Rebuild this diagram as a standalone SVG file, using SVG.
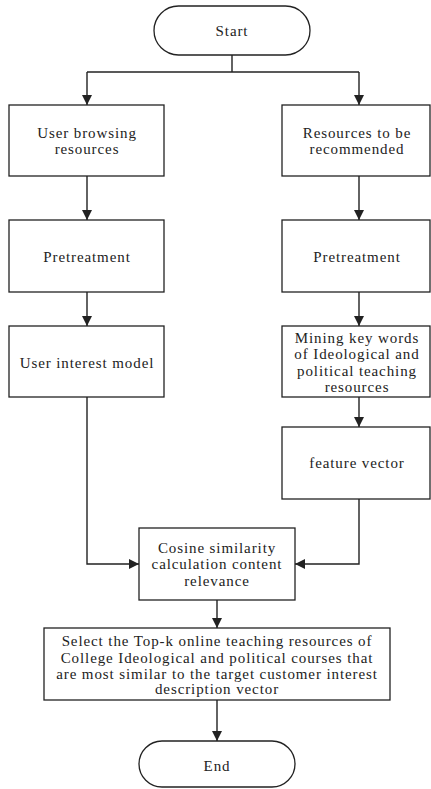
<svg xmlns="http://www.w3.org/2000/svg" width="431" height="789" viewBox="0 0 431 789">
  <style>
    .box { fill: #ffffff; stroke: #222222; stroke-width: 1.3; }
    .term { fill: #ffffff; stroke: #222222; stroke-width: 1.3; }
    .lbl { font-family: "Liberation Serif", "Times New Roman", serif; font-size: 15px; letter-spacing: 0.9px; fill: #222222; text-anchor: middle; }
    .conn { fill: none; stroke: #222222; stroke-width: 1.4; }
  </style>
  <defs>
    <marker id="arrow" viewBox="0 0 10 10" refX="10" refY="5" markerWidth="10" markerHeight="10" markerUnits="userSpaceOnUse" orient="auto">
      <path d="M0,0 L10,5 L0,10 Z" fill="#222222"/>
    </marker>
  </defs>
  <rect width="431" height="789" fill="#ffffff"/>

  <g id="connectors">
    <path class="conn" d="M232,55 V72"/>
    <path class="conn" d="M87,72 H359"/>
    <path class="conn" d="M87,72 V105" marker-end="url(#arrow)"/>
    <path class="conn" d="M359,72 V105" marker-end="url(#arrow)"/>
    <path class="conn" d="M87,176 V220" marker-end="url(#arrow)"/>
    <path class="conn" d="M359,176 V220" marker-end="url(#arrow)"/>
    <path class="conn" d="M87,292 V326" marker-end="url(#arrow)"/>
    <path class="conn" d="M359,292 V326" marker-end="url(#arrow)"/>
    <path class="conn" d="M359,397 V427" marker-end="url(#arrow)"/>
    <path class="conn" d="M87,397 V564 H139" marker-end="url(#arrow)"/>
    <path class="conn" d="M359,499 V564 H295" marker-end="url(#arrow)"/>
    <path class="conn" d="M217,600 V628" marker-end="url(#arrow)"/>
    <path class="conn" d="M217,700 V741" marker-end="url(#arrow)"/>
  </g>

  <g id="start">
    <rect class="term" x="154" y="6" width="156" height="49" rx="24.5"/>
    <text class="lbl" x="232" y="36">Start</text>
  </g>

  <g id="user-browsing">
    <rect class="box" x="9" y="105" width="155" height="71"/>
    <text class="lbl" x="87" y="138">User browsing</text>
    <text class="lbl" x="87" y="154">resources</text>
  </g>

  <g id="resources-recommended">
    <rect class="box" x="282" y="105" width="148" height="71"/>
    <text class="lbl" x="357" y="138">Resources to be</text>
    <text class="lbl" x="357" y="154">recommended</text>
  </g>

  <g id="pretreatment-left">
    <rect class="box" x="9" y="220" width="155" height="72"/>
    <text class="lbl" x="87" y="262">Pretreatment</text>
  </g>

  <g id="pretreatment-right">
    <rect class="box" x="282" y="220" width="148" height="72"/>
    <text class="lbl" x="357" y="262">Pretreatment</text>
  </g>

  <g id="user-interest-model">
    <rect class="box" x="9" y="326" width="155" height="71"/>
    <text class="lbl" x="87" y="368">User interest model</text>
  </g>

  <g id="mining-keywords">
    <rect class="box" x="282" y="326" width="148" height="71"/>
    <text class="lbl" x="357" y="343">Mining key words</text>
    <text class="lbl" x="357" y="359">of Ideological and</text>
    <text class="lbl" x="357" y="376">political teaching</text>
    <text class="lbl" x="357" y="392">resources</text>
  </g>

  <g id="feature-vector">
    <rect class="box" x="282" y="427" width="148" height="72"/>
    <text class="lbl" x="357" y="468">feature vector</text>
  </g>

  <g id="cosine-similarity">
    <rect class="box" x="139" y="528" width="156" height="72"/>
    <text class="lbl" x="217" y="553">Cosine similarity</text>
    <text class="lbl" x="217" y="569">calculation content</text>
    <text class="lbl" x="217" y="586">relevance</text>
  </g>

  <g id="select-top-k">
    <rect class="box" x="44" y="628" width="346" height="72"/>
    <text class="lbl" x="217" y="646">Select the Top-k online teaching resources of</text>
    <text class="lbl" x="217" y="663">College Ideological and political courses that</text>
    <text class="lbl" x="217" y="679">are most similar to the target customer interest</text>
    <text class="lbl" x="217" y="694">description vector</text>
  </g>

  <g id="end">
    <rect class="term" x="139" y="741" width="156" height="46" rx="23"/>
    <text class="lbl" x="217" y="771">End</text>
  </g>
</svg>
